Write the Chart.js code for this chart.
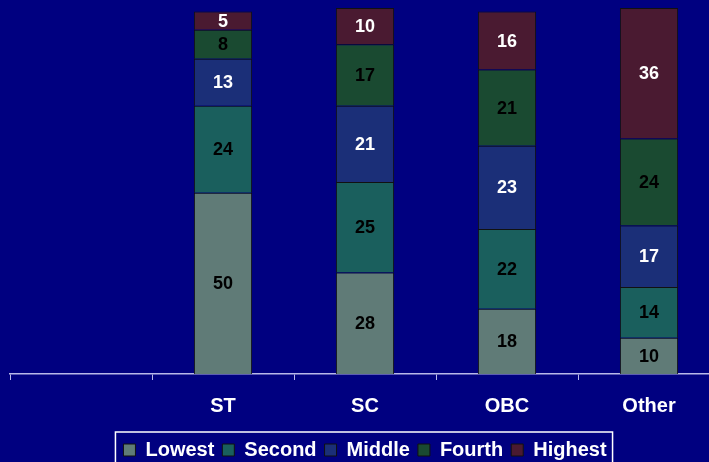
<!DOCTYPE html>
<html>
<head>
<meta charset="utf-8">
<script src="https://cdn.jsdelivr.net/npm/chart.js@4"></script>
<style>
    html, body { margin: 0; padding: 0; background: #000080; overflow: hidden; }
    #wrap { width: 720px; height: 462px; overflow: hidden; }
</style>
</head>
<body>
<div id="wrap"><canvas id="quintileChart" width="720" height="470"></canvas></div>
<script>
// Categories (first slot is empty, as in the original)
const categories = ['', 'ST', 'SC', 'OBC', 'Other'];
const seriesNames = ['Lowest', 'Second', 'Middle', 'Fourth', 'Highest'];

// Share of each wealth quintile per group
const lowest  = [null, 50, 28, 18, 10];
const second  = [null, 24, 25, 22, 14];
const middle  = [null, 13, 21, 23, 17];
const fourth  = [null, 8, 17, 21, 24];
const highest = [null, 5, 10, 16, 36];

const fillColors = ['#607b77', '#1a5f5d', '#1b2f78', '#1a4a31', '#4a1a31'];
const labelColors = ['#000000', '#000000', '#ffffff', '#000000', '#ffffff'];
const FONT = '"Liberation Sans", Arial, sans-serif';

// Draws the numbers in the middle of each segment
const segmentLabels = {
    id: 'segmentLabels',
    afterDatasetsDraw(chart) {
        const ctx = chart.ctx;
        ctx.save();
        ctx.font = 'bold 18px ' + FONT;
        ctx.textAlign = 'center';
        ctx.textBaseline = 'middle';
        chart.data.datasets.forEach((ds, i) => {
            const meta = chart.getDatasetMeta(i);
            meta.data.forEach((bar, j) => {
                const v = ds.data[j];
                if (v == null) return;
                const props = bar.getProps(['x', 'y', 'base'], true);
                ctx.fillStyle = labelColors[i];
                ctx.fillText(String(v), props.x, (props.y + props.base) / 2 + 1);
            });
        });
        ctx.restore();
    }
};

// White frame around the legend
const legendFrame = {
    id: 'legendFrame',
    afterDraw(chart) {
        const boxes = chart.legend.legendHitBoxes;
        if (!boxes || !boxes.length) return;
        const left = Math.min(...boxes.map(b => b.left)) - 8;
        const right = Math.max(...boxes.map(b => b.left + b.width)) + 6;
        const mid = boxes[0].top + boxes[0].height / 2;
        const ctx = chart.ctx;
        ctx.save();
        ctx.strokeStyle = '#ffffff';
        ctx.lineWidth = 1.5;
        ctx.strokeRect(left, mid - 18, right - left, 40);
        ctx.restore();
    }
};

const seriesData = [lowest, second, middle, fourth, highest];

new Chart(document.getElementById('quintileChart'), {
    type: 'bar',
    data: {
        labels: categories,
        datasets: seriesData.map((d, i) => ({
            label: seriesNames[i],
            data: d,
            backgroundColor: fillColors[i],
            borderColor: '#111111',
            borderWidth: 1,
            barPercentage: 0.41,
            categoryPercentage: 1
        }))
    },
    options: {
        responsive: false,
        animation: false,
        layout: { padding: { left: 10, right: 0, top: 8, bottom: 0 } },
        plugins: {
            legend: {
                position: 'bottom',
                labels: {
                    color: '#ffffff',
                    font: { family: FONT, size: 20, weight: 'bold' },
                    boxWidth: 12,
                    boxHeight: 12,
                    padding: 8,
                    useBorderRadius: false
                }
            },
            tooltip: { enabled: false }
        },
        scales: {
            x: {
                stacked: true,
                grid: {
                    display: true,
                    drawOnChartArea: false,
                    drawTicks: true,
                    tickLength: 6,
                    color: '#b8b8e8',
                    offset: true
                },
                border: { display: true, color: '#b8b8e8', width: 1.5 },
                ticks: {
                    color: '#ffffff',
                    font: { family: FONT, size: 20, weight: 'bold', lineHeight: 1.4 },
                    padding: 12
                }
            },
            y: {
                stacked: true,
                display: false,
                min: 0,
                max: 101
            }
        }
    },
    plugins: [segmentLabels, legendFrame]
});
</script>
</body>
</html>
